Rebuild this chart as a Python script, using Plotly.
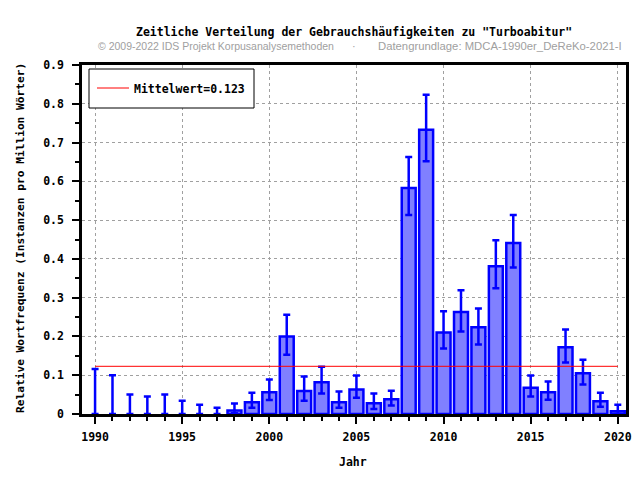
import plotly.graph_objects as go

years = list(range(1990, 2021))
values = [0, 0, 0, 0, 0, 0, 0, 0, 0.009, 0.030,
          0.056, 0.200, 0.059, 0.082, 0.030, 0.063, 0.028, 0.038, 0.583, 0.733,
          0.210, 0.263, 0.224, 0.381, 0.441, 0.068, 0.056, 0.172, 0.105, 0.033,
          0.007]
upper = [0.116, 0.100, 0.050, 0.045, 0.050, 0.034, 0.024, 0.016, 0.027, 0.055,
         0.089, 0.256, 0.097, 0.122, 0.058, 0.099, 0.053, 0.060, 0.663, 0.823,
         0.265, 0.319, 0.272, 0.448, 0.513, 0.099, 0.084, 0.218, 0.140, 0.055,
         0.024]
lower = [0, 0, 0, 0, 0, 0, 0, 0, 0.002, 0.016,
         0.036, 0.153, 0.034, 0.053, 0.016, 0.042, 0.013, 0.022, 0.513, 0.652,
         0.169, 0.213, 0.179, 0.324, 0.378, 0.045, 0.037, 0.133, 0.076, 0.019,
         0.0]
mean_value = 0.123

err_plus = [u - v for u, v in zip(upper, values)]
err_minus = [v - l for v, l in zip(values, lower)]
outline_w = [2.5 if v > 0 else 0 for v in values]

MONO = "DejaVu Sans Mono"
FS = 11.5
PL, PT, PR, PB = 82, 65, 626, 414  # plot area in page pixels
PW, PH = PR - PL, PB - PT
W, H = 640, 480


def px_x(x):
    return (x - PL) / PW


def px_y(y):
    return (PB - y) / PH


fig = go.Figure()
fig.add_trace(go.Bar(
    x=years, y=values, width=0.8,
    marker=dict(color="#8080ff", line=dict(color="#0000ff", width=outline_w)),
    error_y=dict(type="data", array=err_plus, arrayminus=err_minus,
                 color="#0000ff", thickness=2.5, width=3.5, symmetric=False),
    showlegend=False,
))
fig.add_trace(go.Scatter(
    x=[years[0], years[-1]], y=[mean_value, mean_value], mode="lines",
    line=dict(color="red", width=1), name=f"Mittelwert={mean_value}",
    showlegend=True,
))

axis_common = dict(
    showline=True, linecolor="black", linewidth=2.5, mirror=True,
    ticks="outside", ticklen=7, tickwidth=2, tickcolor="black",
    showgrid=True, gridcolor="#a0a0a0", griddash="dot", gridwidth=1,
    zeroline=False, automargin=False,
    tickfont=dict(family=MONO, size=FS, color="black", weight="bold"),
)
fig.update_xaxes(range=[1989.25, 2020.47], tick0=1990, dtick=5,
                 ticklabelstandoff=3,
                 minor=dict(dtick=1, ticks="outside", ticklen=4, tickwidth=2,
                            tickcolor="black", showgrid=False),
                 **axis_common)
fig.update_yaxes(range=[0, 0.9], tick0=0, dtick=0.1, tickformat=".1~f",
                 ticklabelstandoff=6,
                 minor=dict(dtick=0.05, ticks="outside", ticklen=4, tickwidth=2,
                            tickcolor="black", showgrid=False),
                 **axis_common)

fig.update_layout(
    width=W, height=H,
    margin=dict(l=PL, r=W - PR, t=PT, b=H - PB),
    paper_bgcolor="white", plot_bgcolor="white",
    legend=dict(x=px_x(92), y=px_y(88), xanchor="left", yanchor="middle",
                bgcolor="rgba(0,0,0,0)", borderwidth=0,
                font=dict(family=MONO, size=FS, color="black", weight="bold"),
                itemwidth=32),
    shapes=[dict(type="rect", xref="paper", yref="paper",
                 x0=px_x(89), x1=px_x(254), y0=px_y(108), y1=px_y(69),
                 line=dict(color="black", width=1), fillcolor="white", layer="above")],
    annotations=[
        dict(text='Zeitliche Verteilung der Gebrauchshäufigkeiten zu "Turboabitur"',
             x=px_x(354), y=px_y(32), xref="paper", yref="paper", showarrow=False,
             xanchor="center", yanchor="middle",
             font=dict(family=MONO, size=FS, color="black", weight="bold")),
        dict(text="© 2009-2022 IDS Projekt Korpusanalysemethoden",
             x=px_x(96), y=px_y(46), xref="paper", yref="paper",
             xanchor="left", yanchor="middle", showarrow=False,
             font=dict(family="Liberation Sans", size=10.5, color="#a0a0a0")),
        dict(text="·", x=px_x(354), y=px_y(46), xref="paper", yref="paper",
             xanchor="center", yanchor="middle",
             showarrow=False, font=dict(family="Liberation Sans", size=11, color="#a0a0a0")),
        dict(text="Datengrundlage: MDCA-1990er_DeReKo-2021-I",
             x=px_x(376), y=px_y(46), xref="paper", yref="paper",
             xanchor="left", yanchor="middle", showarrow=False,
             font=dict(family="Liberation Sans", size=11.3, color="#a0a0a0")),
        # axis titles
        dict(text="Jahr", x=px_x(353), y=px_y(462), xref="paper", yref="paper",
             xanchor="center", yanchor="middle", showarrow=False,
             font=dict(family=MONO, size=FS, color="black", weight="bold")),
        dict(text="Relative Wortfrequenz (Instanzen pro Million Wörter)",
             x=px_x(20), y=px_y(238), xref="paper", yref="paper",
             xanchor="center", yanchor="middle", showarrow=False, textangle=-90,
             font=dict(family=MONO, size=11.2, color="black", weight="bold")),
    ],
)

fig.write_html("out.html", config={"displayModeBar": False},
               post_script="document.body.style.margin='0';document.body.style.padding='0';")
